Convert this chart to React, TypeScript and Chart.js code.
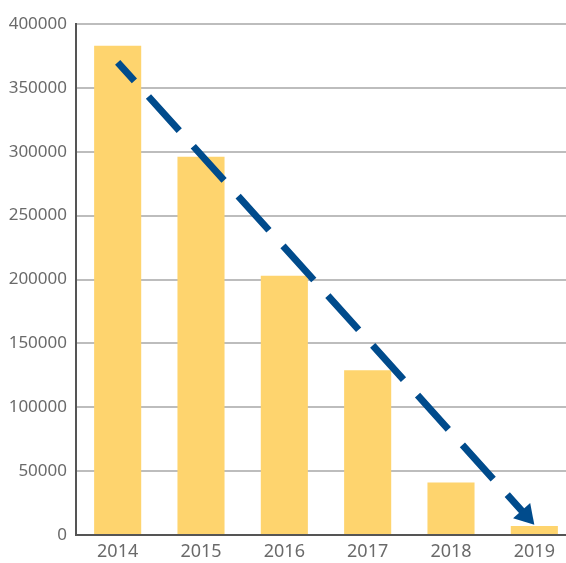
import React, { useEffect, useRef } from "react";
import { Chart, registerables } from "chart.js";

Chart.register(...registerables);

const categories = ["2014", "2015", "2016", "2017", "2018", "2019"];
const values = [383000, 296000, 203000, 129000, 41000, 7000];
const trendStart = { x: "2014", y: 370000 };
const trendEnd = { x: "2019", y: 8000 };
const yTicks = { min: 0, max: 400000, step: 50000 };

const FONT = "'Noto Sans', 'Liberation Sans', sans-serif";

const arrowPlugin = {
  id: "trendArrow",
  afterDatasetsDraw(chart: any) {
    const meta = chart.getDatasetMeta(1);
    if (!meta || !meta.data || meta.data.length < 2) return;
    const p0 = meta.data[0];
    const p1 = meta.data[1];
    const dx = p1.x - p0.x;
    const dy = p1.y - p0.y;
    const len = Math.sqrt(dx * dx + dy * dy);
    const ux = dx / len;
    const uy = dy / len;
    const headLen = 19;
    const headW = 23;
    const bx = p1.x - ux * headLen;
    const by = p1.y - uy * headLen;
    const ctx = chart.ctx;
    ctx.save();
    ctx.strokeStyle = "#004B8C";
    ctx.fillStyle = "#004B8C";
    ctx.lineWidth = 7;
    ctx.lineCap = "butt";
    ctx.setLineDash([46, 21]);
    ctx.lineDashOffset = 21;
    ctx.beginPath();
    ctx.moveTo(p0.x, p0.y);
    ctx.lineTo(bx + ux * 1, by + uy * 1);
    ctx.stroke();
    ctx.setLineDash([]);
    ctx.beginPath();
    ctx.moveTo(p1.x, p1.y);
    ctx.lineTo(bx - uy * headW / 2, by + ux * headW / 2);
    ctx.lineTo(bx + uy * headW / 2, by - ux * headW / 2);
    ctx.closePath();
    ctx.fill();
    ctx.restore();
  },
};

export default function App() {
  const ref = useRef<HTMLCanvasElement | null>(null);
  useEffect(() => {
    if (!ref.current) return;
    const chart = new Chart(ref.current, {
      type: "bar",
      data: {
        labels: categories,
        datasets: [
          {
            type: "bar",
            data: values,
            backgroundColor: "#FED46E",
            borderWidth: 0,
            categoryPercentage: 1,
            barPercentage: 0.565,
          } as any,
          {
            type: "line",
            data: [trendStart, trendEnd],
            showLine: false,
            pointRadius: 0,
            pointHoverRadius: 0,
          } as any,
        ],
      },
      options: {
        animation: false,
        responsive: true,
        maintainAspectRatio: false,
        events: [],
        layout: { padding: { top: 24, right: 0, left: 0, bottom: 0 } },
        plugins: { legend: { display: false }, tooltip: { enabled: false } },
        scales: {
          x: {
            type: "category",
            offset: true,
            grid: { display: false, drawTicks: false },
            border: { display: true, color: "#555555", width: 2 },
            ticks: { color: "#6A6A6A", font: { family: FONT, size: 18 }, padding: 6 },
            afterFit: (s: any) => { s.height = 28; },
          },
          y: {
            min: yTicks.min,
            max: yTicks.max,
            ticks: {
              stepSize: yTicks.step,
              color: "#6A6A6A",
              font: { family: FONT, size: 17 },
              padding: 9,
              callback: (v: any) => String(v),
            },
            grid: { color: "#BDBDBD", lineWidth: 2, drawTicks: false },
            border: { display: true, color: "#555555", width: 2 },
            afterFit: (s: any) => { s.width = 76; },
          },
        },
      },
      plugins: [arrowPlugin],
    } as any);
    return () => chart.destroy();
  }, []);
  return (
    <div style={{ position: "fixed", left: 0, top: 0, width: 576, height: 563, background: "#fff" }}>
      <canvas ref={ref} />
    </div>
  );
}
